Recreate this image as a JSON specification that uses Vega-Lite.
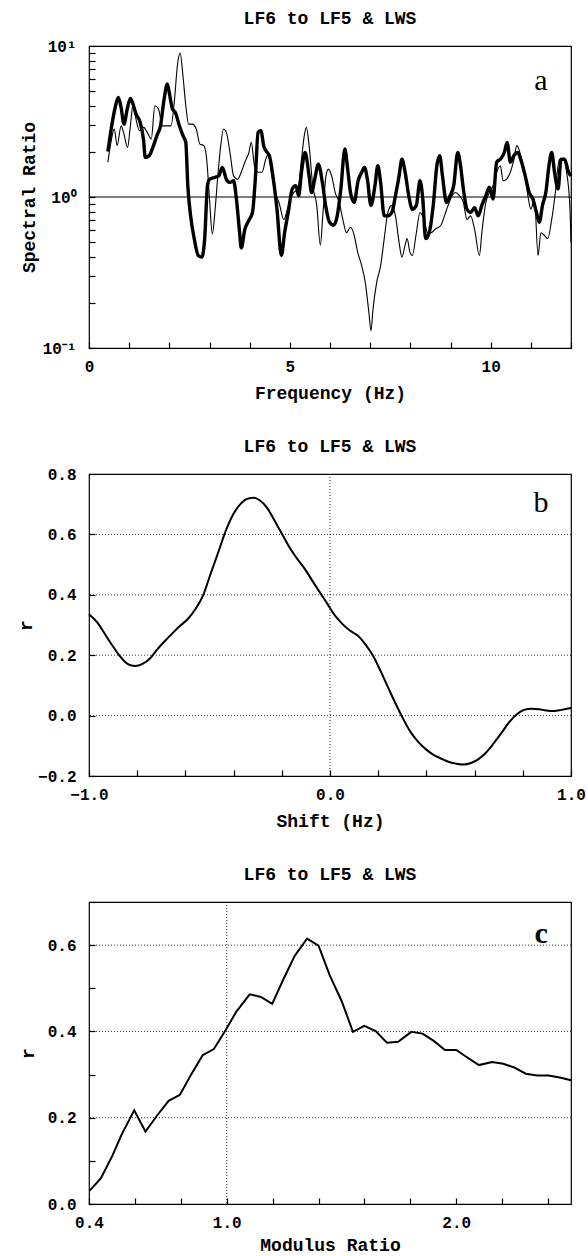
{
  "$schema": "https://vega.github.io/schema/vega-lite/v6.json",
  "background": "white",
  "padding": {"left": 16, "top": 9, "right": 5, "bottom": 0},
  "spacing": 34,
  "config": {
    "view": {"stroke": "black", "strokeWidth": 1.2},
    "font": "Liberation Mono",
    "axis": {"domain": false, "grid": false, "ticks": true, "tickSize": 6, "offset": -6, "tickColor": "black", "tickWidth": 1.2,
      "labelFont": "Liberation Mono", "labelFontWeight": "bold", "labelFontSize": 16, "labelColor": "black",
      "titleFont": "Liberation Mono", "titleFontWeight": "bold", "titleFontSize": 18, "titleColor": "black",
      "labelFlush": false, "labelOverlap": false},
    "axisX": {"labelPadding": 10, "titlePadding": 10},
    "axisY": {"labelPadding": 13},
    "title": {"font": "Liberation Mono", "fontSize": 18, "fontWeight": "bold", "color": "black", "offset": 10, "frame": "group", "anchor": "middle"}
  },
  "datasets": {
    "thick": [
      {"f":0.47,"r":2.0},{"f":0.56,"r":2.9},{"f":0.65,"r":3.9},{"f":0.73,"r":4.56},{"f":0.8,"r":3.9},{"f":0.87,"r":3.04},{"f":0.95,"r":3.8},{"f":1.03,"r":4.5},{"f":1.1,"r":4.1},{"f":1.17,"r":3.54},{"f":1.26,"r":3.2},{"f":1.36,"r":2.36},{"f":1.4,"r":1.83},{"f":1.5,"r":1.88},{"f":1.59,"r":2.13},{"f":1.69,"r":2.55},{"f":1.78,"r":2.96},{"f":1.87,"r":4.45},{"f":1.95,"r":5.6},{"f":2.01,"r":4.7},{"f":2.08,"r":3.82},{"f":2.15,"r":3.63},{"f":2.25,"r":2.96},{"f":2.34,"r":2.55},{"f":2.41,"r":2.3},{"f":2.46,"r":1.19},{"f":2.53,"r":0.75},{"f":2.62,"r":0.53},{"f":2.72,"r":0.41},{"f":2.81,"r":0.4},{"f":2.88,"r":0.53},{"f":2.95,"r":1.19},{"f":3.0,"r":1.31},{"f":3.14,"r":1.35},{"f":3.23,"r":1.38},{"f":3.32,"r":1.57},{"f":3.42,"r":1.31},{"f":3.51,"r":1.25},{"f":3.6,"r":1.28},{"f":3.67,"r":0.97},{"f":3.75,"r":0.58},{"f":3.79,"r":0.46},{"f":3.88,"r":0.61},{"f":3.98,"r":0.7},{"f":4.07,"r":0.79},{"f":4.14,"r":1.31},{"f":4.21,"r":2.68},{"f":4.28,"r":2.75},{"f":4.35,"r":2.18},{"f":4.42,"r":2.0},{"f":4.49,"r":1.88},{"f":4.59,"r":1.31},{"f":4.68,"r":0.83},{"f":4.79,"r":0.41},{"f":4.87,"r":0.58},{"f":4.96,"r":0.79},{"f":5.06,"r":1.13},{"f":5.15,"r":1.19},{"f":5.22,"r":1.02},{"f":5.29,"r":1.46},{"f":5.38,"r":1.97},{"f":5.48,"r":1.38},{"f":5.54,"r":1.07},{"f":5.62,"r":1.31},{"f":5.71,"r":1.65},{"f":5.81,"r":1.25},{"f":5.9,"r":0.85},{"f":5.99,"r":0.68},{"f":6.09,"r":0.65},{"f":6.18,"r":0.75},{"f":6.27,"r":1.13},{"f":6.37,"r":2.08},{"f":6.44,"r":1.53},{"f":6.51,"r":1.07},{"f":6.6,"r":0.92},{"f":6.7,"r":1.28},{"f":6.79,"r":1.46},{"f":6.86,"r":1.57},{"f":6.93,"r":1.31},{"f":7.02,"r":0.88},{"f":7.12,"r":1.19},{"f":7.19,"r":1.61},{"f":7.26,"r":1.25},{"f":7.35,"r":0.75},{"f":7.44,"r":0.75},{"f":7.54,"r":0.79},{"f":7.63,"r":1.02},{"f":7.72,"r":1.38},{"f":7.79,"r":1.78},{"f":7.87,"r":1.46},{"f":7.96,"r":1.02},{"f":8.05,"r":0.83},{"f":8.15,"r":0.88},{"f":8.24,"r":1.28},{"f":8.31,"r":0.97},{"f":8.38,"r":0.53},{"f":8.47,"r":0.58},{"f":8.57,"r":0.88},{"f":8.66,"r":1.61},{"f":8.73,"r":1.88},{"f":8.8,"r":1.38},{"f":8.9,"r":0.92},{"f":8.99,"r":1.02},{"f":9.08,"r":1.19},{"f":9.18,"r":1.97},{"f":9.25,"r":1.61},{"f":9.32,"r":1.13},{"f":9.41,"r":0.83},{"f":9.5,"r":0.79},{"f":9.6,"r":0.85},{"f":9.69,"r":0.75},{"f":9.78,"r":0.88},{"f":9.88,"r":1.02},{"f":9.97,"r":1.16},{"f":10.06,"r":0.97},{"f":10.15,"r":1.7},{"f":10.24,"r":1.78},{"f":10.34,"r":1.97},{"f":10.41,"r":2.3},{"f":10.49,"r":1.7},{"f":10.58,"r":1.88},{"f":10.67,"r":1.97},{"f":10.77,"r":1.7},{"f":10.86,"r":1.38},{"f":10.96,"r":1.07},{"f":11.05,"r":0.97},{"f":11.14,"r":0.79},{"f":11.21,"r":0.68},{"f":11.29,"r":0.88},{"f":11.38,"r":1.1},{"f":11.44,"r":1.53},{"f":11.52,"r":1.97},{"f":11.59,"r":1.46},{"f":11.68,"r":1.13},{"f":11.75,"r":1.78},{"f":11.84,"r":1.78},{"f":11.94,"r":1.46},{"f":12.0,"r":1.38}
    ],
    "thin": [
      {"f":0.47,"r":1.7},{"f":0.56,"r":2.42},{"f":0.63,"r":2.82},{"f":0.7,"r":2.19},{"f":0.8,"r":2.96},{"f":0.86,"r":2.68},{"f":0.96,"r":2.13},{"f":1.03,"r":2.96},{"f":1.1,"r":4.12},{"f":1.17,"r":3.28},{"f":1.26,"r":2.75},{"f":1.36,"r":2.89},{"f":1.45,"r":2.68},{"f":1.55,"r":2.42},{"f":1.64,"r":4.02},{"f":1.73,"r":3.82},{"f":1.83,"r":2.96},{"f":1.92,"r":2.96},{"f":2.04,"r":2.96},{"f":2.13,"r":4.45},{"f":2.2,"r":7.4},{"f":2.27,"r":8.97},{"f":2.34,"r":6.3},{"f":2.41,"r":4.02},{"f":2.48,"r":3.04},{"f":2.57,"r":3.04},{"f":2.67,"r":2.82},{"f":2.76,"r":2.24},{"f":2.86,"r":2.19},{"f":2.93,"r":1.78},{"f":3.0,"r":0.97},{"f":3.07,"r":0.57},{"f":3.14,"r":0.83},{"f":3.2,"r":1.31},{"f":3.28,"r":2.19},{"f":3.35,"r":2.82},{"f":3.42,"r":2.68},{"f":3.51,"r":1.97},{"f":3.6,"r":1.38},{"f":3.7,"r":1.31},{"f":3.79,"r":1.46},{"f":3.88,"r":1.7},{"f":3.98,"r":1.97},{"f":4.04,"r":2.3},{"f":4.12,"r":1.61},{"f":4.21,"r":1.46},{"f":4.31,"r":1.46},{"f":4.4,"r":1.78},{"f":4.47,"r":1.93},{"f":4.54,"r":1.46},{"f":4.63,"r":1.07},{"f":4.73,"r":0.92},{"f":4.85,"r":0.71},{"f":4.94,"r":0.83},{"f":5.01,"r":0.97},{"f":5.1,"r":1.07},{"f":5.2,"r":1.13},{"f":5.29,"r":1.78},{"f":5.36,"r":2.55},{"f":5.41,"r":2.89},{"f":5.48,"r":2.19},{"f":5.57,"r":1.19},{"f":5.67,"r":0.88},{"f":5.76,"r":0.48},{"f":5.82,"r":0.75},{"f":5.9,"r":1.38},{"f":5.96,"r":1.53},{"f":6.04,"r":1.38},{"f":6.13,"r":1.07},{"f":6.23,"r":0.92},{"f":6.32,"r":0.71},{"f":6.41,"r":0.58},{"f":6.51,"r":0.63},{"f":6.6,"r":0.56},{"f":6.69,"r":0.43},{"f":6.79,"r":0.35},{"f":6.88,"r":0.27},{"f":6.97,"r":0.17},{"f":7.02,"r":0.13},{"f":7.07,"r":0.18},{"f":7.16,"r":0.27},{"f":7.26,"r":0.35},{"f":7.35,"r":0.53},{"f":7.44,"r":0.79},{"f":7.54,"r":0.88},{"f":7.63,"r":0.75},{"f":7.72,"r":0.5},{"f":7.79,"r":0.4},{"f":7.87,"r":0.48},{"f":7.92,"r":0.53},{"f":7.99,"r":0.43},{"f":8.05,"r":0.41},{"f":8.15,"r":0.58},{"f":8.24,"r":0.79},{"f":8.34,"r":0.71},{"f":8.43,"r":0.58},{"f":8.52,"r":0.58},{"f":8.61,"r":0.61},{"f":8.76,"r":0.65},{"f":8.85,"r":0.75},{"f":8.94,"r":0.88},{"f":9.04,"r":1.02},{"f":9.13,"r":1.07},{"f":9.22,"r":1.02},{"f":9.32,"r":0.92},{"f":9.41,"r":0.71},{"f":9.5,"r":0.75},{"f":9.6,"r":0.61},{"f":9.72,"r":0.41},{"f":9.78,"r":0.58},{"f":9.88,"r":0.92},{"f":9.97,"r":1.07},{"f":10.06,"r":1.19},{"f":10.15,"r":1.46},{"f":10.24,"r":1.61},{"f":10.31,"r":1.28},{"f":10.39,"r":1.31},{"f":10.49,"r":1.46},{"f":10.58,"r":1.78},{"f":10.65,"r":2.19},{"f":10.75,"r":1.88},{"f":10.84,"r":1.46},{"f":10.94,"r":0.97},{"f":11.0,"r":0.83},{"f":11.09,"r":0.97},{"f":11.18,"r":0.41},{"f":11.25,"r":0.58},{"f":11.33,"r":0.56},{"f":11.42,"r":0.53},{"f":11.52,"r":0.71},{"f":11.61,"r":1.07},{"f":11.71,"r":1.78},{"f":11.8,"r":1.78},{"f":11.89,"r":1.46},{"f":11.97,"r":0.88},{"f":12.0,"r":0.5}
    ],
    "shift": [
      {"s":-1.0,"r":0.336},{"s":-0.966,"r":0.309},{"s":-0.934,"r":0.27},{"s":-0.903,"r":0.232},{"s":-0.872,"r":0.197},{"s":-0.84,"r":0.171},{"s":-0.809,"r":0.164},{"s":-0.778,"r":0.171},{"s":-0.746,"r":0.19},{"s":-0.715,"r":0.221},{"s":-0.684,"r":0.248},{"s":-0.652,"r":0.274},{"s":-0.621,"r":0.298},{"s":-0.59,"r":0.32},{"s":-0.558,"r":0.353},{"s":-0.527,"r":0.397},{"s":-0.496,"r":0.468},{"s":-0.464,"r":0.54},{"s":-0.433,"r":0.611},{"s":-0.402,"r":0.666},{"s":-0.37,"r":0.702},{"s":-0.339,"r":0.719},{"s":-0.316,"r":0.721},{"s":-0.292,"r":0.713},{"s":-0.261,"r":0.688},{"s":-0.229,"r":0.644},{"s":-0.198,"r":0.6},{"s":-0.167,"r":0.556},{"s":-0.135,"r":0.518},{"s":-0.104,"r":0.485},{"s":-0.073,"r":0.446},{"s":-0.042,"r":0.408},{"s":-0.01,"r":0.369},{"s":0.021,"r":0.331},{"s":0.052,"r":0.303},{"s":0.084,"r":0.281},{"s":0.115,"r":0.265},{"s":0.146,"r":0.237},{"s":0.178,"r":0.199},{"s":0.209,"r":0.149},{"s":0.24,"r":0.095},{"s":0.272,"r":0.04},{"s":0.303,"r":-0.01},{"s":0.334,"r":-0.054},{"s":0.366,"r":-0.087},{"s":0.397,"r":-0.111},{"s":0.428,"r":-0.129},{"s":0.46,"r":-0.142},{"s":0.491,"r":-0.153},{"s":0.523,"r":-0.159},{"s":0.554,"r":-0.162},{"s":0.585,"r":-0.157},{"s":0.616,"r":-0.144},{"s":0.648,"r":-0.122},{"s":0.679,"r":-0.092},{"s":0.71,"r":-0.059},{"s":0.742,"r":-0.023},{"s":0.773,"r":0.003},{"s":0.805,"r":0.019},{"s":0.836,"r":0.023},{"s":0.867,"r":0.021},{"s":0.898,"r":0.017},{"s":0.93,"r":0.015},{"s":0.961,"r":0.019},{"s":1.0,"r":0.025}
    ],
    "modulus": [
      {"m":0.403,"r":0.031},{"m":0.452,"r":0.06},{"m":0.502,"r":0.112},{"m":0.543,"r":0.162},{"m":0.597,"r":0.217},{"m":0.646,"r":0.168},{"m":0.695,"r":0.204},{"m":0.747,"r":0.239},{"m":0.796,"r":0.253},{"m":0.846,"r":0.301},{"m":0.895,"r":0.345},{"m":0.944,"r":0.359},{"m":0.993,"r":0.401},{"m":1.042,"r":0.446},{"m":1.1,"r":0.486},{"m":1.149,"r":0.48},{"m":1.198,"r":0.464},{"m":1.247,"r":0.521},{"m":1.296,"r":0.575},{"m":1.35,"r":0.615},{"m":1.4,"r":0.599},{"m":1.449,"r":0.53},{"m":1.501,"r":0.47},{"m":1.55,"r":0.399},{"m":1.599,"r":0.413},{"m":1.649,"r":0.401},{"m":1.698,"r":0.374},{"m":1.747,"r":0.376},{"m":1.804,"r":0.399},{"m":1.853,"r":0.395},{"m":1.902,"r":0.378},{"m":1.951,"r":0.357},{"m":2.0,"r":0.357},{"m":2.05,"r":0.339},{"m":2.099,"r":0.322},{"m":2.156,"r":0.329},{"m":2.205,"r":0.325},{"m":2.254,"r":0.316},{"m":2.303,"r":0.302},{"m":2.352,"r":0.298},{"m":2.402,"r":0.298},{"m":2.451,"r":0.293},{"m":2.5,"r":0.287}
    ]
  },
  "vconcat": [
    {
      "width": 482, "height": 302,
      "title": "LF6 to LF5 & LWS",
      "layer": [
        {
          "data": {"values": [{"r": 1}]},
          "mark": {"type": "rule", "color": "black", "strokeWidth": 1.2},
          "encoding": {"y": {"field": "r", "type": "quantitative", "scale": {"type": "log", "domain": [0.1, 10]}}}
        },
        {
          "data": {"name": "thin"},
          "mark": {"type": "line", "color": "black", "strokeWidth": 1.1, "interpolate": "monotone"},
          "encoding": {
            "x": {"field": "f", "type": "quantitative", "scale": {"domain": [0, 12], "nice": false},
              "axis": {"title": "Frequency (Hz)", "values": [0,1,2,3,4,5,6,7,8,9,10,11,12], "labelExpr": "datum.value % 5 == 0 ? datum.value : ''"}},
            "y": {"field": "r", "type": "quantitative", "scale": {"type": "log", "domain": [0.1, 10]},
              "axis": {"title": "Spectral Ratio", "titlePadding": 4, "values": [0.1,0.2,0.3,0.4,0.5,0.6,0.7,0.8,0.9,1,2,3,4,5,6,7,8,9,10],
                "labelExpr": "abs(datum.value-10)<0.001 ? '10¹' : abs(datum.value-1)<0.001 ? '10⁰' : abs(datum.value-0.1)<0.001 ? '10⁻¹' : ''"}}
          }
        },
        {
          "data": {"name": "thick"},
          "mark": {"type": "line", "color": "black", "strokeWidth": 3.4, "interpolate": "monotone"},
          "encoding": {
            "x": {"field": "f", "type": "quantitative"},
            "y": {"field": "r", "type": "quantitative"}
          }
        },
        {
          "data": {"values": [{"f": 11.25, "r": 5.9, "t": "a"}]},
          "mark": {"type": "text", "font": "Liberation Serif", "fontSize": 30, "baseline": "middle", "align": "center", "color": "black"},
          "encoding": {"x": {"field": "f", "type": "quantitative"}, "y": {"field": "r", "type": "quantitative"}, "text": {"field": "t"}}
        }
      ]
    },
    {
      "width": 482, "height": 302,
      "title": "LF6 to LF5 & LWS",
      "layer": [
        {
          "data": {"values": [{"g": 0.0}, {"g": 0.2}, {"g": 0.4}, {"g": 0.6}]},
          "mark": {"type": "rule", "color": "black", "strokeWidth": 0.8, "strokeDash": [1, 2]},
          "encoding": {"y": {"field": "g", "type": "quantitative", "scale": {"domain": [-0.2, 0.8]}}}
        },
        {
          "data": {"values": [{"v": 0.0}]},
          "mark": {"type": "rule", "color": "black", "strokeWidth": 0.8, "strokeDash": [1, 2]},
          "encoding": {"x": {"field": "v", "type": "quantitative", "scale": {"domain": [-1, 1]}}}
        },
        {
          "data": {"name": "shift"},
          "mark": {"type": "line", "color": "black", "strokeWidth": 2, "interpolate": "monotone"},
          "encoding": {
            "x": {"field": "s", "type": "quantitative", "scale": {"domain": [-1, 1], "nice": false},
              "axis": {"title": "Shift (Hz)", "values": [-1,-0.9,-0.8,-0.7,-0.6,-0.5,-0.4,-0.3,-0.2,-0.1,0,0.1,0.2,0.3,0.4,0.5,0.6,0.7,0.8,0.9,1],
                "labelExpr": "abs(datum.value-round(datum.value))<0.001 ? format(datum.value, '.1f') : ''"}},
            "y": {"field": "r", "type": "quantitative", "scale": {"domain": [-0.2, 0.8], "nice": false},
              "axis": {"title": "r", "titlePadding": 2, "values": [-0.2,-0.1,0,0.1,0.2,0.3,0.4,0.5,0.6,0.7,0.8],
                "labelExpr": "round(datum.value*10) % 2 == 0 ? format(datum.value, '.1f') : ''"}}
          }
        },
        {
          "data": {"values": [{"s": 0.875, "r": 0.704, "t": "b"}]},
          "mark": {"type": "text", "font": "Liberation Serif", "fontSize": 30, "baseline": "middle", "align": "center", "color": "black"},
          "encoding": {"x": {"field": "s", "type": "quantitative"}, "y": {"field": "r", "type": "quantitative"}, "text": {"field": "t"}}
        }
      ]
    },
    {
      "width": 482, "height": 302,
      "title": "LF6 to LF5 & LWS",
      "layer": [
        {
          "data": {"values": [{"g": 0.2}, {"g": 0.4}, {"g": 0.6}]},
          "mark": {"type": "rule", "color": "black", "strokeWidth": 0.8, "strokeDash": [1, 2]},
          "encoding": {"y": {"field": "g", "type": "quantitative", "scale": {"domain": [0, 0.7]}}}
        },
        {
          "data": {"values": [{"v": 1.0}]},
          "mark": {"type": "rule", "color": "black", "strokeWidth": 0.8, "strokeDash": [1, 2]},
          "encoding": {"x": {"field": "v", "type": "quantitative", "scale": {"domain": [0.4, 2.5]}}}
        },
        {
          "data": {"name": "modulus"},
          "mark": {"type": "line", "color": "black", "strokeWidth": 2},
          "encoding": {
            "x": {"field": "m", "type": "quantitative", "scale": {"domain": [0.4, 2.5], "nice": false, "zero": false},
              "axis": {"title": "Modulus Ratio", "titlePadding": 6, "values": [0.4,0.5,0.6,0.7,0.8,0.9,1,1.1,1.2,1.3,1.4,1.5,1.6,1.7,1.8,1.9,2,2.1,2.2,2.3,2.4,2.5],
                "labelExpr": "abs(datum.value-0.4)<0.001 || abs(datum.value-1)<0.001 || abs(datum.value-2)<0.001 ? format(datum.value, '.1f') : ''"}},
            "y": {"field": "r", "type": "quantitative", "scale": {"domain": [0, 0.7], "nice": false},
              "axis": {"title": "r", "titlePadding": 10, "values": [0,0.1,0.2,0.3,0.4,0.5,0.6,0.7],
                "labelExpr": "round(datum.value*10) % 2 == 0 && datum.value < 0.65 ? format(datum.value, '.1f') : ''"}}
          }
        },
        {
          "data": {"values": [{"m": 2.37, "r": 0.625, "t": "c"}]},
          "mark": {"type": "text", "font": "Liberation Serif", "fontSize": 30, "fontWeight": "bold", "baseline": "middle", "align": "center", "color": "black"},
          "encoding": {"x": {"field": "m", "type": "quantitative"}, "y": {"field": "r", "type": "quantitative"}, "text": {"field": "t"}}
        }
      ]
    }
  ]
}
